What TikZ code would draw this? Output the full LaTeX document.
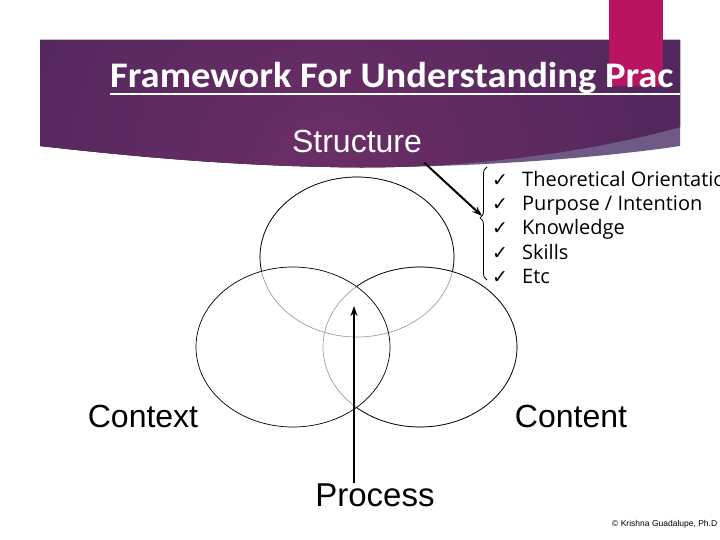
\documentclass[tikz,border=0pt]{standalone}
\usepackage{fontspec}
\setmainfont{Liberation Sans}
\newfontfamily\calfont{Carlito}
\newfontfamily\titlefont[FakeStretch=1.07]{Carlito}
\newfontfamily\listfont{Open Sans}
\newfontfamily\djvfont{DejaVu Sans}
\usetikzlibrary{arrows.meta,decorations.pathreplacing,shapes.geometric}
\definecolor{bandark}{HTML}{3B2153}
\definecolor{banmid}{HTML}{6B2E66}
\definecolor{banlight}{HTML}{6E5A84}
\definecolor{pinkbar}{HTML}{B8145F}
\definecolor{overlapgray}{HTML}{A0A0A0}
\begin{document}
\begin{tikzpicture}[x=1pt,y=-1pt,
 arr/.style={line width=2pt, -{Stealth[length=10pt,width=7pt]}},
 ring/.style={line width=0.7pt},
 ringnode/.style={ellipse, draw, line width=0.7pt, minimum width=194pt, minimum height=160pt, inner sep=0pt},
 big/.style={font=\fontsize{32}{36}\selectfont, inner sep=0pt},
 item/.style={font=\listfont\fontsize{20}{24}\selectfont, anchor=base west, inner sep=0pt},
 tick/.style={font=\djvfont\fontsize{19}{22}\selectfont, anchor=base west, inner sep=0pt}]
\useasboundingbox (0,0) rectangle (720,540);
\fill[white] (0,0) rectangle (720,540);
% banner
\fill[banlight] (40,40) -- (680,40) -- (680,146) .. controls (600,158) and (460,169) .. (330,167) .. controls (220,165) and (120,155) .. (40,146) -- cycle;
\begin{scope}
 \clip (40,40) -- (680,40) -- (680,127) .. controls (560,160) and (420,170) .. (330,167) .. controls (220,165) and (120,155) .. (40,146) -- cycle;
 \fill[bandark] (0,0) rectangle (720,200);
 \shade[inner color=banmid, outer color=bandark] (330,175) circle (680pt);
\end{scope}
\fill[pinkbar] (609,0) rectangle (663,86);
\begin{scope}
 \clip (0,0) rectangle (680,540);
 \node[font=\titlefont\bfseries\fontsize{36}{40}\selectfont, text=white, anchor=base west, inner sep=0pt] (title) at (110,88) {Framework For Understanding Prac};
\end{scope}
\draw[white, line width=2pt] (110,94) -- (680,94);
\node[big, text=white, anchor=base, font=\fontsize{32}{36}\selectfont] (structure) at (357,153) {Structure};
% ellipses
\draw[overlapgray, ring] (357,257) ellipse [x radius=97pt, y radius=80pt];
\begin{scope}[even odd rule]
 \clip (0,0) rectangle (720,540) (293,347) ellipse [x radius=97pt, y radius=80pt];
 \clip (0,0) rectangle (720,540) (420,347) ellipse [x radius=97pt, y radius=80pt];
 \node[ringnode] (topE) at (357,257) {};
\end{scope}
\draw[overlapgray, ring] (420,347) ellipse [x radius=97pt, y radius=80pt];
\begin{scope}[even odd rule]
 \clip (0,0) rectangle (720,540) (293,347) ellipse [x radius=97pt, y radius=80pt];
 \node[ringnode] (rightE) at (420,347) {};
\end{scope}
\node[ringnode] (leftE) at (293,347) {};
% labels
\node[big, anchor=base] (context) at (143,427) {Context};
\node[big, anchor=base] (content) at (571,427) {Content};
\node[big, anchor=base, font=\fontsize{33}{36}\selectfont] (process) at (375,506) {Process};
% list
\foreach \t [count=\i] in {Theoretical Orientation, Purpose / Intention, Knowledge, Skills, Etc}{
 \node[tick] (tk\i) at (492,{163+24*\i}) {✓};
 \node[item] (it\i) at (522,{163+24*\i}) {\t};
}
\draw[line width=0.8pt, decorate, decoration={brace, amplitude=7pt, aspect=0.55}] (487,280) -- (487,167);
\coordinate (bracetip) at (482,216);
\coordinate (centre) at (354,306);
\draw[arr] ([shift={(2,9)}]structure.south east) -- (bracetip);
\draw[arr] (process.north -| centre) -- (centre);
\node[font=\fontsize{8.5}{10}\selectfont, anchor=base west, inner sep=0pt] (copy) at (612,526) {© Krishna Guadalupe, Ph.D};
\end{tikzpicture}
\end{document}
